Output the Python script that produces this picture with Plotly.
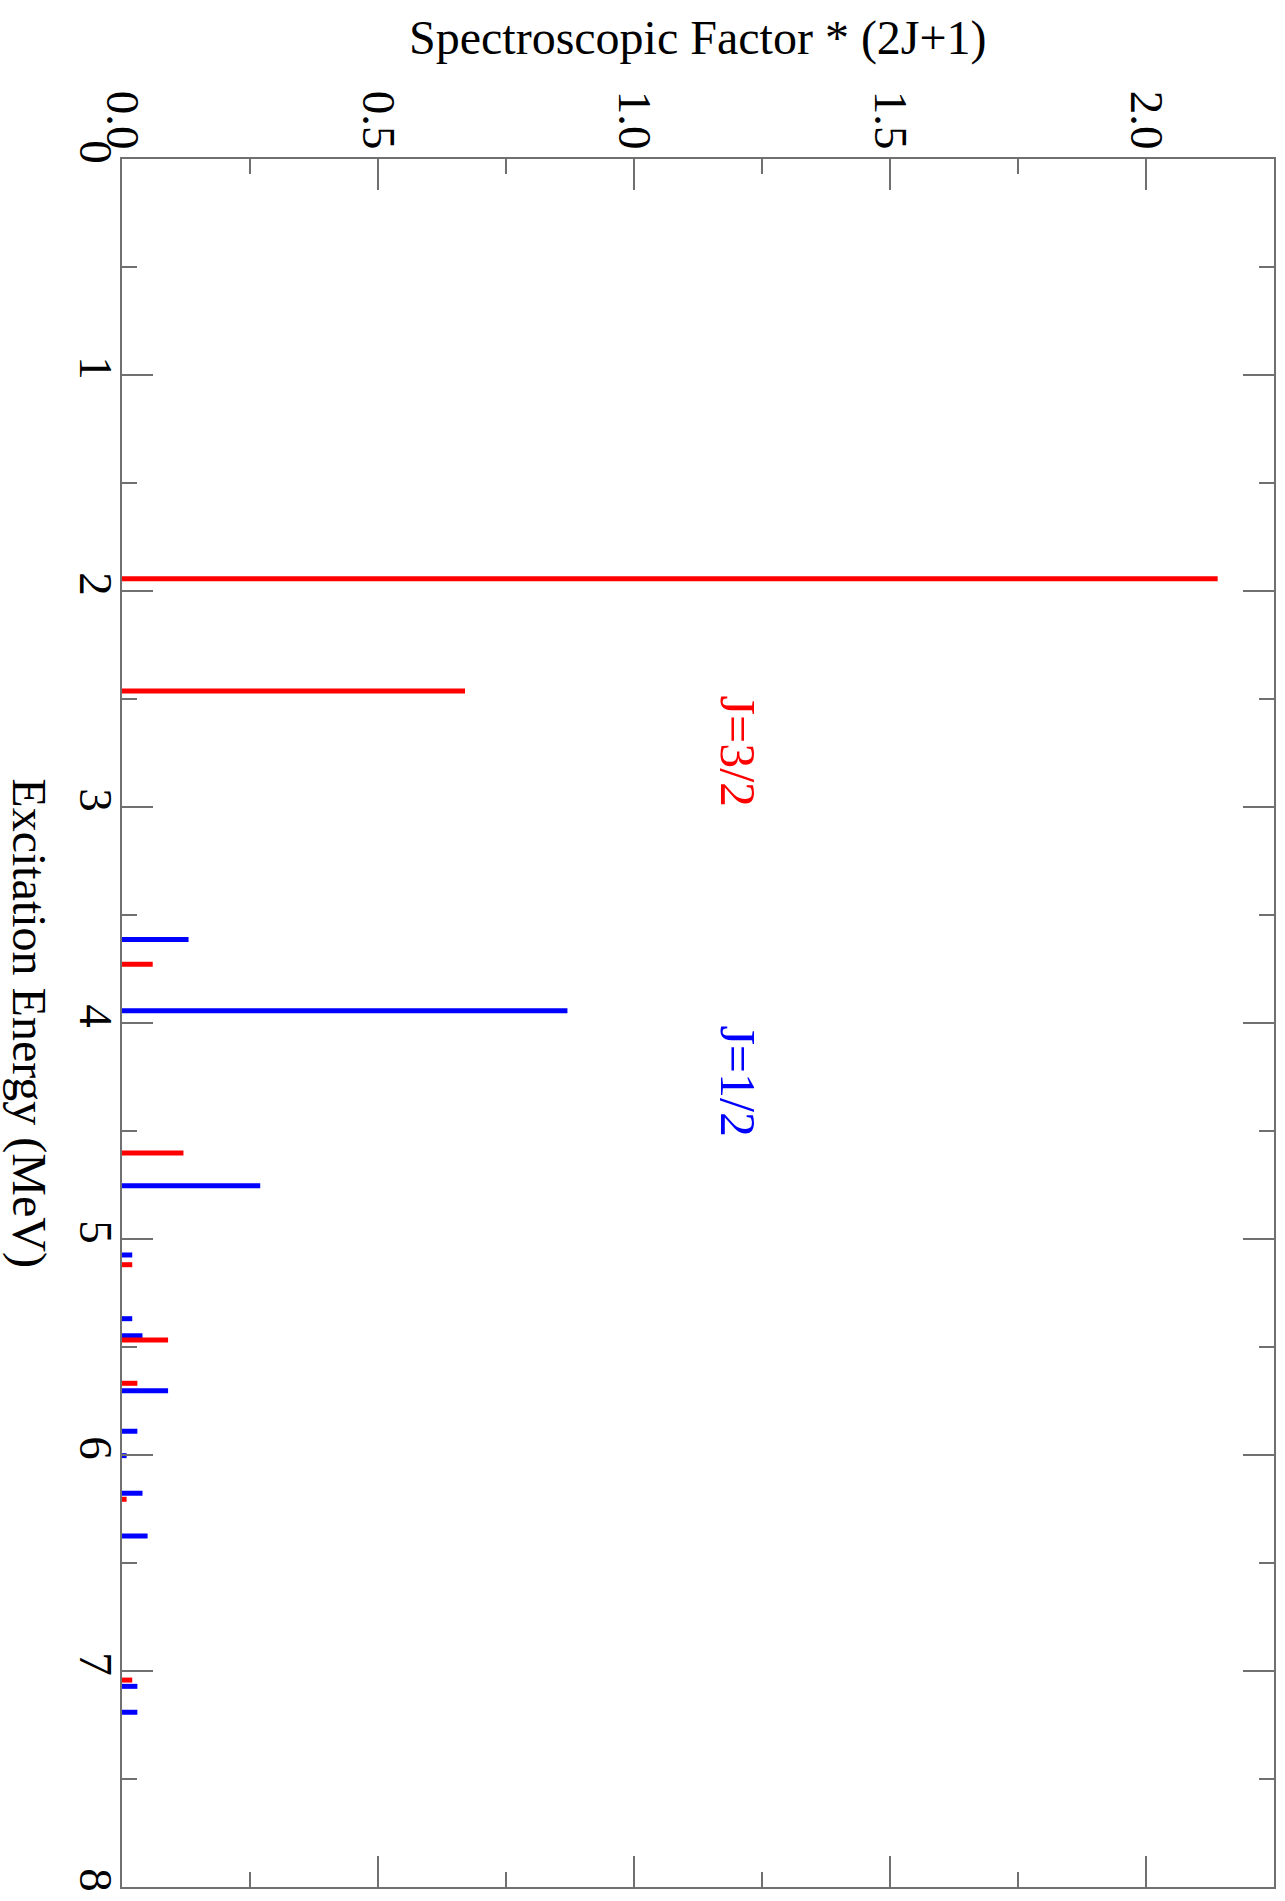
import plotly.graph_objects as go

# Excitation energies (MeV) and spectroscopic strengths S*(2J+1)
energy_j32 = [1.943, 2.463, 3.728, 4.602, 5.119, 5.468, 5.668, 6.205, 7.042]
strength_j32 = [2.140, 0.670, 0.060, 0.120, 0.020, 0.090, 0.030, 0.009, 0.020]

energy_j12 = [3.613, 3.943, 4.753, 5.074, 5.369, 5.448, 5.702, 5.890, 6.003,
              6.177, 6.375, 7.071, 7.191]
strength_j12 = [0.130, 0.870, 0.270, 0.020, 0.020, 0.040, 0.090, 0.030, 0.009,
                0.040, 0.050, 0.030, 0.030]

energy_ticks = [0, 1, 2, 3, 4, 5, 6, 7, 8]
strength_ticks = [0.0, 0.5, 1.0, 1.5, 2.0]

FONT = "Liberation Serif"
AXIS_COLOR = "#707070"


def stick_trace(energies, strengths, color, name):
    xs, ys = [], []
    for e, s in zip(energies, strengths):
        xs += [0, s, None]
        ys += [e, e, None]
    return go.Scatter(x=xs, y=ys, mode="lines", name=name,
                      line=dict(color=color, width=5), hoverinfo="skip",
                      showlegend=False)


fig = go.Figure()
fig.add_trace(stick_trace(energy_j12, strength_j12, "#0000ff", "J=1/2"))
fig.add_trace(stick_trace(energy_j32, strength_j32, "#ff0000", "J=3/2"))

axis_common = dict(
    showline=True, linecolor=AXIS_COLOR, linewidth=2, mirror="allticks",
    ticks="inside", ticklen=31, tickwidth=2, tickcolor=AXIS_COLOR,
    showgrid=False, zeroline=False, tickangle=90, automargin=False,
    tickfont=dict(family=FONT, size=47, color="black"),
)

fig.update_xaxes(
    side="top", range=[0, 2.25], tickvals=strength_ticks,
    ticktext=[f"{v:.1f}" for v in strength_ticks],
    minor=dict(dtick=0.25, ticklen=15, tickwidth=2, tickcolor=AXIS_COLOR,
               ticks="inside"),
    ticklabelstandoff=-9,
    **axis_common,
)
fig.update_yaxes(
    range=[8, 0], tickvals=energy_ticks,
    ticktext=[str(v) for v in energy_ticks],
    minor=dict(dtick=0.5, ticklen=15, tickwidth=2, tickcolor=AXIS_COLOR,
               ticks="inside"),
    ticklabelstandoff=-16,
    **axis_common,
)

fig.add_annotation(text="Spectroscopic Factor * (2J+1)", xref="paper",
                   yref="paper", x=0.5, y=1.07, xanchor="center",
                   yanchor="middle", showarrow=False,
                   font=dict(family=FONT, size=48, color="black"))
fig.add_annotation(text="Excitation Energy (MeV)", xref="paper", yref="paper",
                   x=-0.081, y=0.5, xanchor="center", yanchor="middle",
                   textangle=90, showarrow=False,
                   font=dict(family=FONT, size=48, color="black"))
fig.add_annotation(text="J=3/2", x=1.203, y=2.743, textangle=90,
                   xanchor="center", yanchor="middle", showarrow=False,
                   font=dict(family=FONT, size=50, color="#ff0000"))
fig.add_annotation(text="J=1/2", x=1.203, y=4.27, textangle=90,
                   xanchor="center", yanchor="middle", showarrow=False,
                   font=dict(family=FONT, size=50, color="#0000ff"))

fig.update_layout(
    width=1285, height=1901,
    margin=dict(l=122, r=11, t=159, b=14),
    paper_bgcolor="white", plot_bgcolor="white",
)

fig.write_html("out.html")
